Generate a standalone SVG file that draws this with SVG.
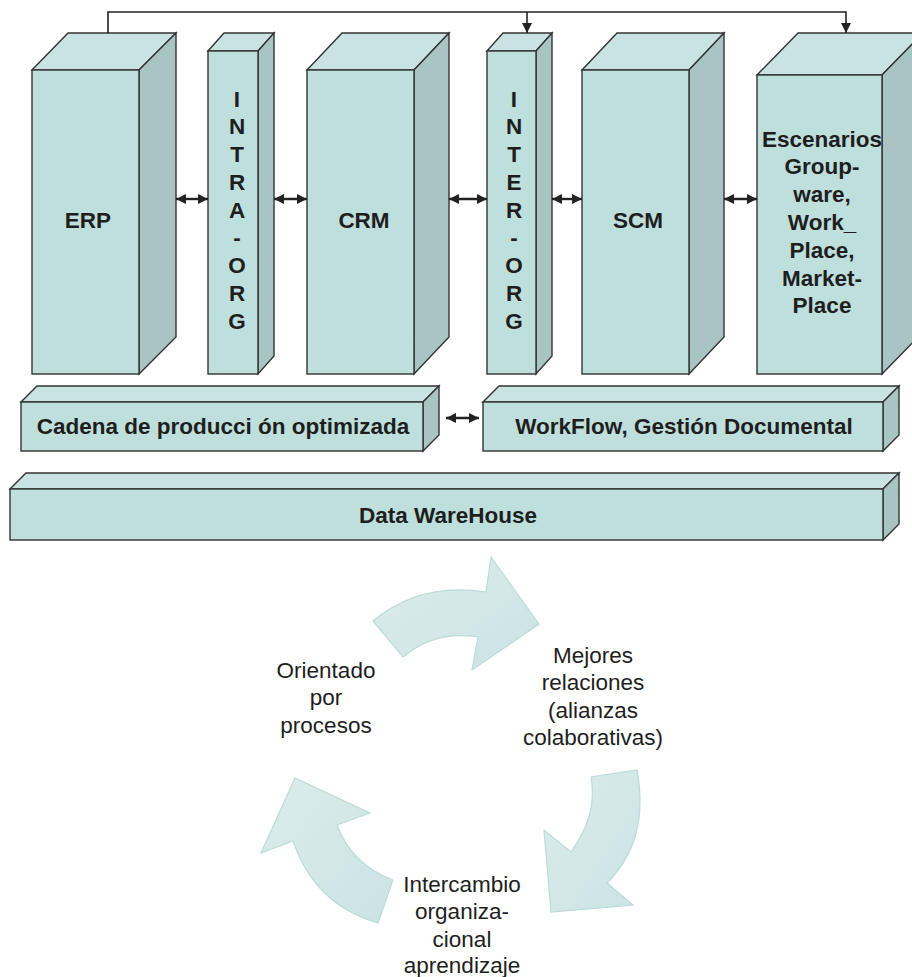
<svg xmlns="http://www.w3.org/2000/svg" width="912" height="977" viewBox="0 0 912 977">
  <defs>
    <style>
      .front { fill: #bfdfdd; stroke: #333; stroke-width: 1.4; stroke-linejoin: miter; }
      .top { fill: #c9e3e2; stroke: #333; stroke-width: 1.4; }
      .side { fill: #a8c4c3; stroke: #333; stroke-width: 1.4; }
      .lbl { font-family: "Liberation Sans", Arial, sans-serif; font-weight: bold; font-size: 22.5px; fill: #1e1e1e; text-anchor: middle; }
      .cyc { font-family: "Liberation Sans", Arial, sans-serif; font-size: 22.5px; fill: #1e1e1e; text-anchor: middle; }
      .wire { fill: none; stroke: #222; stroke-width: 1.6; }
      .dbl { fill: none; stroke: #222; stroke-width: 2.4; }
      .cyc-arrow { fill: url(#cycFill); stroke: #b9dcdb; stroke-width: 1.2; }
    </style>
    <marker id="ah" viewBox="0 0 10 10" refX="10" refY="5" markerWidth="10" markerHeight="11" markerUnits="userSpaceOnUse" orient="auto">
      <path d="M0,0 L10,5 L0,10 Z" fill="#222"/>
    </marker>
    <marker id="dh" viewBox="0 0 10 10" refX="10" refY="5" markerWidth="10" markerHeight="11" markerUnits="userSpaceOnUse" orient="auto-start-reverse">
      <path d="M0,0 L10,5 L0,10 Z" fill="#222"/>
    </marker>
    <linearGradient id="cycFill" x1="0" y1="0" x2="1" y2="1">
      <stop offset="0" stop-color="#dcecec"/>
      <stop offset="1" stop-color="#cbe3e3"/>
    </linearGradient>
  </defs>

  <!-- columns -->
  <g id="erp">
    <polygon class="top" points="32,70 68,33 176,33 139,70"/>
    <polygon class="side" points="139,70 176,33 176,337 139,374"/>
    <rect class="front" x="32" y="70" width="107" height="304"/>
    <text class="lbl" x="88" y="228">ERP</text>
  </g>
  <g id="intra-org">
    <polygon class="top" points="208,51 224,33 274,33 258,51"/>
    <polygon class="side" points="258,51 274,33 274,356 258,374"/>
    <rect class="front" x="208" y="51" width="50" height="323"/>
    <text class="lbl" x="237" y="107">I</text>
    <text class="lbl" x="237" y="134">N</text>
    <text class="lbl" x="237" y="162">T</text>
    <text class="lbl" x="237" y="190">R</text>
    <text class="lbl" x="237" y="218">A</text>
    <text class="lbl" x="237" y="245">-</text>
    <text class="lbl" x="237" y="273">O</text>
    <text class="lbl" x="237" y="301">R</text>
    <text class="lbl" x="237" y="329">G</text>
  </g>
  <g id="crm">
    <polygon class="top" points="307,70 342,33 449,33 414,70"/>
    <polygon class="side" points="414,70 449,33 449,337 414,374"/>
    <rect class="front" x="307" y="70" width="107" height="304"/>
    <text class="lbl" x="364" y="228">CRM</text>
  </g>
  <g id="inter-org">
    <polygon class="top" points="487,51 503,33 552,33 536,51"/>
    <polygon class="side" points="536,51 552,33 552,356 536,374"/>
    <rect class="front" x="487" y="51" width="49" height="323"/>
    <text class="lbl" x="514" y="107">I</text>
    <text class="lbl" x="514" y="134">N</text>
    <text class="lbl" x="514" y="162">T</text>
    <text class="lbl" x="514" y="190">E</text>
    <text class="lbl" x="514" y="218">R</text>
    <text class="lbl" x="514" y="245">-</text>
    <text class="lbl" x="514" y="273">O</text>
    <text class="lbl" x="514" y="301">R</text>
    <text class="lbl" x="514" y="329">G</text>
  </g>
  <g id="scm">
    <polygon class="top" points="582,70 617,33 724,33 689,70"/>
    <polygon class="side" points="689,70 724,33 724,337 689,374"/>
    <rect class="front" x="582" y="70" width="107" height="304"/>
    <text class="lbl" x="638" y="228">SCM</text>
  </g>
  <g id="escenarios">
    <polygon class="top" points="757,75 798,33 923,33 882,75"/>
    <polygon class="side" points="882,75 923,33 923,332 882,374"/>
    <rect class="front" x="757" y="75" width="125" height="299"/>
    <text class="lbl" x="822" y="147">Escenarios</text>
    <text class="lbl" x="822" y="174">Group-</text>
    <text class="lbl" x="822" y="202">ware,</text>
    <text class="lbl" x="822" y="230">Work_</text>
    <text class="lbl" x="822" y="258">Place,</text>
    <text class="lbl" x="822" y="286">Market-</text>
    <text class="lbl" x="822" y="313">Place</text>
  </g>

  <!-- horizontal layers -->
  <g id="cadena">
    <polygon class="top" points="21,402 37,386 439,386 423,402"/>
    <polygon class="side" points="423,402 439,386 439,435 423,451"/>
    <rect class="front" x="21" y="402" width="402" height="49"/>
    <text class="lbl" x="223" y="434">Cadena de producci ón optimizada</text>
  </g>
  <g id="workflow">
    <polygon class="top" points="483,402 499,386 899,386 883,402"/>
    <polygon class="side" points="883,402 899,386 899,435 883,451"/>
    <rect class="front" x="483" y="402" width="400" height="49"/>
    <text class="lbl" x="684" y="434">WorkFlow, Gestión Documental</text>
  </g>
  <g id="data-warehouse">
    <polygon class="top" points="10,489 26,473 899,473 883,489"/>
    <polygon class="side" points="883,489 899,473 899,524 883,540"/>
    <rect class="front" x="10" y="489" width="873" height="51"/>
    <text class="lbl" x="448" y="523">Data WareHouse</text>
  </g>

  <!-- connectors -->
  <g id="connectors">
    <polyline class="wire" points="108,33 108,12 846,12 846,33" marker-end="url(#ah)"/>
    <line class="wire" x1="527" y1="12" x2="527" y2="33" marker-end="url(#ah)"/>
    <line class="dbl" x1="176" y1="199" x2="208" y2="199" marker-start="url(#dh)" marker-end="url(#dh)"/>
    <line class="dbl" x1="274" y1="199" x2="307" y2="199" marker-start="url(#dh)" marker-end="url(#dh)"/>
    <line class="dbl" x1="449" y1="199" x2="487" y2="199" marker-start="url(#dh)" marker-end="url(#dh)"/>
    <line class="dbl" x1="552" y1="199" x2="582" y2="199" marker-start="url(#dh)" marker-end="url(#dh)"/>
    <line class="dbl" x1="724" y1="199" x2="757" y2="199" marker-start="url(#dh)" marker-end="url(#dh)"/>
    <line class="dbl" x1="446" y1="418" x2="479" y2="418" marker-start="url(#dh)" marker-end="url(#dh)"/>
  </g>

  <!-- cycle -->
  <g id="cycle-arrows">
    <path class="cyc-arrow" d="M373,621 Q420,582 486,592 L491,557 L539,624 L472,670 L478,637 Q435,630 403,657 Z"/>
    <path class="cyc-arrow" d="M637,770 Q650,840 607,883 L633,905 L551,912 L544,830 L571,852 Q598,815 591,777 Z"/>
    <path class="cyc-arrow" d="M378,923 Q315,905 293,841 L261,853 L295,778 L370,813 L337,825 Q352,865 393,880 Z"/>
  </g>
  <g id="orientado">
    <text class="cyc" x="326" y="678">Orientado</text>
    <text class="cyc" x="326" y="705">por</text>
    <text class="cyc" x="326" y="733">procesos</text>
  </g>
  <g id="mejores">
    <text class="cyc" x="593" y="663">Mejores</text>
    <text class="cyc" x="593" y="690">relaciones</text>
    <text class="cyc" x="593" y="718">(alianzas</text>
    <text class="cyc" x="593" y="745">colaborativas)</text>
  </g>
  <g id="intercambio">
    <text class="cyc" x="462" y="892">Intercambio</text>
    <text class="cyc" x="462" y="919">organiza-</text>
    <text class="cyc" x="462" y="947">cional</text>
    <text class="cyc" x="462" y="973">aprendizaje</text>
  </g>
</svg>
